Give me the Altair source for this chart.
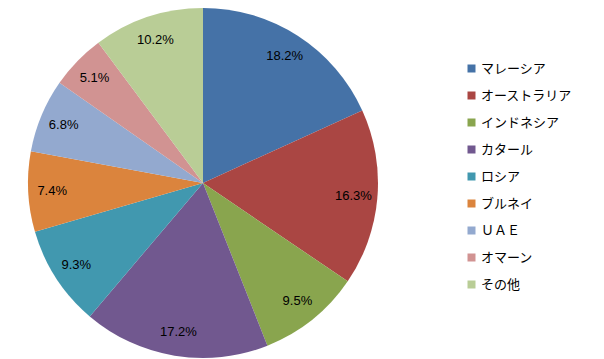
import altair as alt
import pandas as pd

categories = ["マレーシア", "オーストラリア", "インドネシア", "カタール", "ロシア", "ブルネイ", "ＵＡＥ", "オマーン", "その他"]
values = [18.2, 16.3, 9.5, 17.2, 9.3, 7.4, 6.8, 5.1, 10.2]
colors = ["#4572A7", "#AA4643", "#89A54E", "#71588F", "#4198AF", "#DB843D", "#93A9CF", "#D19392", "#B9CD96"]

df = pd.DataFrame({
    "country": categories,
    "share": values,
    "order": list(range(len(categories))),
    "label": [f"{v:.1f}%" for v in values],
})

base = alt.Chart(df).encode(
    theta=alt.Theta("share:Q", stack=True),
    order=alt.Order("order:Q", sort="ascending"),
    x=alt.value(195),
    y=alt.value(175),
)

pie = base.mark_arc(outerRadius=175, strokeWidth=0).encode(
    color=alt.Color(
        "country:N",
        scale=alt.Scale(domain=categories, range=colors),
        sort=categories,
        legend=alt.Legend(
            title=None,
            orient="none",
            legendX=457,
            legendY=54,
            symbolType="square",
            symbolSize=64,
            symbolStrokeWidth=0,
            labelFont="Noto Sans CJK JP",
            labelFontSize=13,
            labelColor="#000000",
            rowPadding=13,
            labelOffset=3,
            labelLimit=200,
        ),
    )
)

text = base.mark_text(radius=151, font="Liberation Sans", fontSize=13, color="#000000").encode(
    text="label:N"
)

chart = (pie + text).properties(width=588, height=351, padding=0).configure_view(stroke=None)

chart.save("out.html", embed_options={"renderer": "svg", "actions": False})
